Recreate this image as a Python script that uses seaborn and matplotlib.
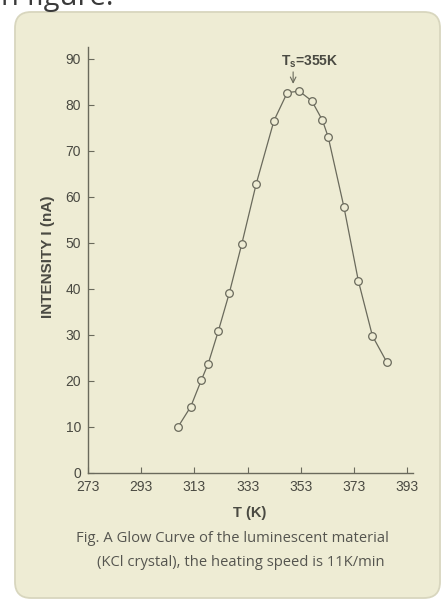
import matplotlib
matplotlib.use("Agg")
import matplotlib.pyplot as plt
import seaborn as sns
import pandas as pd
from matplotlib.patches import FancyBboxPatch

# ---- data ----
temperature_K = [306.7, 311.6, 315.6, 318.2, 322.0, 326.1, 330.8, 336.2, 342.9,
                 347.9, 352.4, 357.1, 361.1, 363.3, 369.2, 374.6, 379.9, 385.3]
intensity_nA = [9.9, 14.4, 20.2, 23.8, 30.9, 39.1, 49.8, 62.8, 76.6,
                82.7, 83.0, 80.9, 76.7, 73.0, 57.8, 41.8, 29.8, 24.1]
x_ticks = [273, 293, 313, 333, 353, 373, 393]
y_ticks = [0, 10, 20, 30, 40, 50, 60, 70, 80, 90]
x_label = "T (K)"
y_label = "INTENSITY I (nA)"
peak_label = r"$\mathbf{T_s}$=355K"
caption_1 = "Fig. A Glow Curve of the luminescent material"
caption_2 = "(KCl crystal), the heating speed is 11K/min"
top_text = "n figure."

df = pd.DataFrame({"T": temperature_K, "I": intensity_nA})

sns.set_style("ticks")
plt.rcParams["font.family"] = ["Liberation Sans", "DejaVu Sans"]
plt.rcParams["mathtext.fontset"] = "custom"
plt.rcParams["mathtext.rm"] = "Liberation Sans"
plt.rcParams["mathtext.bf"] = "Liberation Sans:bold"

W, H = 443, 599
fig = plt.figure(figsize=(W / 100, H / 100), dpi=100)
fig.patch.set_facecolor("white")

card_color = "#EEECD4"
ink = "#6a6a5c"
text_col = "#4a4a42"

# card background (pixel -> inches)
r = 0.16
x0, y0, x1, y1 = 15 / 100, 1 / 100, 440 / 100, (H - 12) / 100
card = FancyBboxPatch((x0 + r, y0 + r), (x1 - x0) - 2 * r, (y1 - y0) - 2 * r,
                      boxstyle=f"round,pad={r}", transform=fig.dpi_scale_trans,
                      facecolor=card_color, edgecolor="#d8d6be", linewidth=1.3,
                      zorder=-10)
fig.patches.append(card)

fig.text(1 / W, 1 - 5 / H, top_text, fontsize=21, color="#3a3a3a",
         family=["Open Sans", "DejaVu Sans"], va="baseline", ha="left")

# axes
left_px, right_px = 88, 412.6
bottom_px, top_px = 473, 47.5
ax = fig.add_axes([left_px / W, 1 - bottom_px / H,
                   (right_px - left_px) / W, (bottom_px - top_px) / H])
ax.set_facecolor("none")
ax.set_zorder(5)

sns.lineplot(data=df, x="T", y="I", ax=ax, color=ink, linewidth=0.9,
             marker="o", markersize=5.5, markerfacecolor=card_color,
             markeredgecolor=ink, markeredgewidth=0.9)

ax.set_xlim(273, 395)
ax.set_ylim(0, 92.5)
ax.set_xticks(x_ticks)
ax.set_yticks(y_ticks)
ax.tick_params(direction="in", length=4, width=0.8, color=ink,
               labelcolor=text_col, labelsize=10)
ax.tick_params(axis="y", pad=5)
ax.tick_params(axis="x", pad=5)
sns.despine(ax=ax)
for s in ("left", "bottom"):
    ax.spines[s].set_color(ink)
    ax.spines[s].set_linewidth(1.0)

ax.set_xlabel(x_label, fontsize=10.5, fontweight="bold", color=text_col)
ax.set_ylabel(y_label, fontsize=11, fontweight="bold", color=text_col)
ax.xaxis.set_label_coords(0.499, -0.078)
ax.yaxis.set_label_coords(-0.102, 0.508)

# peak annotation
ax.annotate("", xy=(350.1, 84.0), xytext=(350.1, 87.8),
            arrowprops=dict(arrowstyle="->", color=ink, lw=0.8))
ax.text(356.5, 89.4, peak_label, fontsize=10, fontweight="bold",
        color=text_col, ha="center", va="center")

# caption
cap_font = ["Open Sans", "DejaVu Sans"]
fig.text(76 / W, 1 - 538 / H, caption_1, fontsize=10.6, color="#55554f",
         family=cap_font, ha="left", va="center")
fig.text(97 / W, 1 - 562 / H, caption_2, fontsize=10.6, color="#55554f",
         family=cap_font, ha="left", va="center")

fig.savefig("out.png", dpi=100)
